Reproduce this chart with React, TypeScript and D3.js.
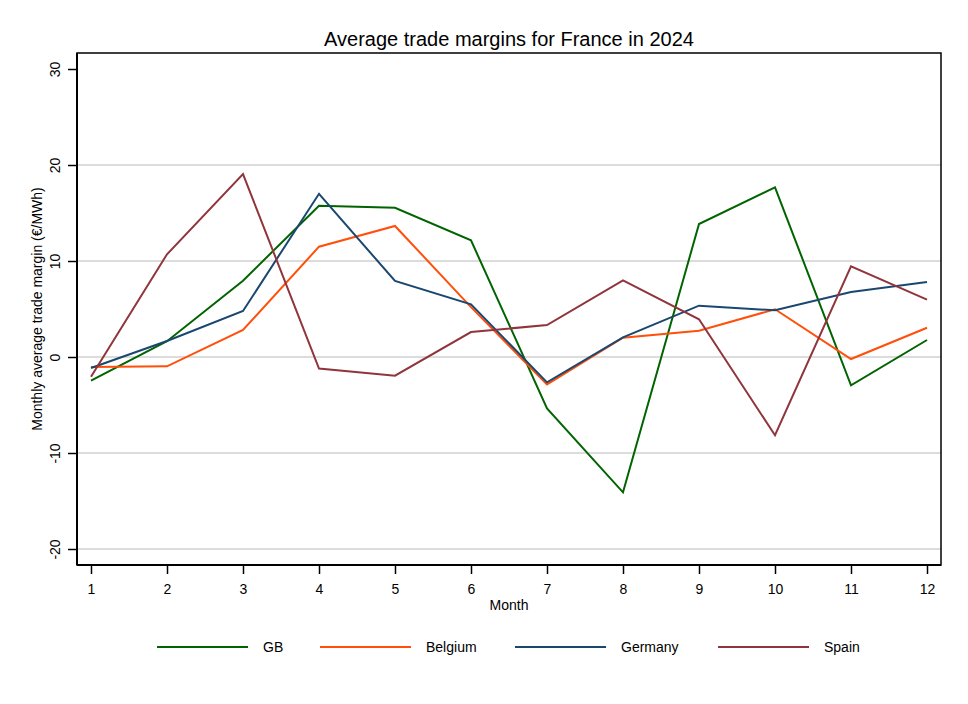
import { useEffect, useRef } from "react";
import * as d3 from "d3";

// Meses e margens médias (€/MWh)
const MONTHS = [1, 2, 3, 4, 5, 6, 7, 8, 9, 10, 11, 12];
const GB = [-2.47, 1.65, 7.95, 15.76, 15.55, 12.15, -5.35, -14.1, 13.85, 17.67, -2.95, 1.77];
const BELGIUM = [-1.04, -0.97, 2.81, 11.49, 13.65, 5.2, -2.85, 2.01, 2.74, 4.97, -0.21, 3.05];
const GERMANY = [-1.15, 1.67, 4.79, 17.0, 7.92, 5.49, -2.64, 2.05, 5.35, 4.86, 6.77, 7.81];
const SPAIN = [-2.05, 10.7, 19.06, -1.21, -1.94, 2.6, 3.33, 7.99, 3.93, -8.15, 9.45, 5.97];

const Y_TICKS = [-20, -10, 0, 10, 20, 30];
const GRID_TICKS = [-20, -10, 0, 10, 20];

const SERIES = [
  { name: "GB", values: GB, color: "#006400" },
  { name: "Belgium", values: BELGIUM, color: "#ff4f0a" },
  { name: "Germany", values: GERMANY, color: "#1a476f" },
  { name: "Spain", values: SPAIN, color: "#90353b" }
];

const WIDTH = 968;
const HEIGHT = 704;
const FONT = "'Liberation Sans', Arial, sans-serif";

const App = () => {
  const svgRef = useRef<SVGSVGElement>(null);

  useEffect(() => {
    document.body.style.margin = "0";
    if (!svgRef.current) return;

    const svg = d3.select(svgRef.current);
    svg.selectAll("*").remove();

    const plot = { left: 77, right: 941, top: 53, bottom: 565 };

    const x = d3.scaleLinear().domain([1, 12]).range([91, 927]);
    const y = d3.scaleLinear().domain([-20, 30]).range([549, 69]);

    svg.append("rect").attr("width", WIDTH).attr("height", HEIGHT).attr("fill", "#fff");

    // Grade horizontal
    svg.append("g")
      .selectAll("line")
      .data(GRID_TICKS)
      .enter()
      .append("line")
      .attr("x1", plot.left)
      .attr("x2", plot.right)
      .attr("y1", (d) => y(d))
      .attr("y2", (d) => y(d))
      .attr("stroke", "#dcdcdc")
      .attr("stroke-width", 2);

    // Linhas das séries
    const line = d3.line<number>()
      .x((_, i) => x(MONTHS[i]))
      .y((d) => y(d));

    SERIES.forEach((s) => {
      svg.append("path")
        .datum(s.values)
        .attr("fill", "none")
        .attr("stroke", s.color)
        .attr("stroke-width", 2)
        .attr("stroke-linejoin", "miter")
        .attr("d", line);
    });

    // Moldura
    svg.append("rect")
      .attr("x", plot.left)
      .attr("y", plot.top)
      .attr("width", plot.right - plot.left)
      .attr("height", plot.bottom - plot.top)
      .attr("fill", "none")
      .attr("stroke", "#000")
      .attr("stroke-width", 1.5);

    // Eixo Y (hífen simples, como no original)
    const yAxis = svg.append("g")
      .attr("transform", `translate(${plot.left},0)`)
      .call(
        d3.axisLeft(y)
          .tickValues(Y_TICKS)
          .tickFormat((d) => String(d))
          .tickSize(9)
          .tickSizeOuter(0)
      );
    yAxis.select(".domain").attr("stroke-width", 2).attr("d", `M0,${plot.top}V${plot.bottom}`);
    yAxis.selectAll(".tick line").attr("stroke-width", 1.5);
    yAxis.selectAll<SVGTextElement, number>(".tick text")
      .attr("transform", "rotate(-90)")
      .attr("x", 0)
      .attr("y", -17)
      .attr("dy", 0)
      .attr("text-anchor", "middle")
      .style("font-family", FONT)
      .style("font-size", "14px")
      .attr("fill", "#000");

    // Eixo X
    const xAxis = svg.append("g")
      .attr("transform", `translate(0,${plot.bottom})`)
      .call(
        d3.axisBottom(x)
          .tickValues(MONTHS)
          .tickFormat((d) => String(d))
          .tickSize(9)
          .tickSizeOuter(0)
      );
    xAxis.select(".domain").attr("stroke-width", 2).attr("d", `M${plot.left},0H${plot.right}`);
    xAxis.selectAll(".tick line").attr("stroke-width", 1.5);
    xAxis.selectAll(".tick text")
      .attr("y", 29)
      .attr("dy", 0)
      .style("font-family", FONT)
      .style("font-size", "14px")
      .attr("fill", "#000");

    // Títulos
    svg.append("text")
      .attr("x", (plot.left + plot.right) / 2)
      .attr("y", 46)
      .attr("text-anchor", "middle")
      .style("font-family", FONT)
      .style("font-size", "20px")
      .text("Average trade margins for France in 2024");

    svg.append("text")
      .attr("x", (plot.left + plot.right) / 2)
      .attr("y", 610)
      .attr("text-anchor", "middle")
      .style("font-family", FONT)
      .style("font-size", "14px")
      .text("Month");

    svg.append("text")
      .attr("transform", `translate(42,${(plot.top + plot.bottom) / 2}) rotate(-90)`)
      .attr("text-anchor", "middle")
      .style("font-family", FONT)
      .style("font-size", "14px")
      .text("Monthly average trade margin (€/MWh)");

    // Legenda
    const legendX = [157, 320, 515, 718];
    const legend = svg.append("g").attr("transform", "translate(0,647)");
    SERIES.forEach((s, i) => {
      legend.append("line")
        .attr("x1", legendX[i])
        .attr("x2", legendX[i] + 91)
        .attr("y1", 0)
        .attr("y2", 0)
        .attr("stroke", s.color)
        .attr("stroke-width", 2);
      legend.append("text")
        .attr("x", legendX[i] + 106)
        .attr("y", 5)
        .style("font-family", FONT)
        .style("font-size", "14px")
        .text(s.name);
    });
  }, []);

  return <svg ref={svgRef} width={WIDTH} height={HEIGHT} style={{ display: "block" }} />;
};

export default App;
